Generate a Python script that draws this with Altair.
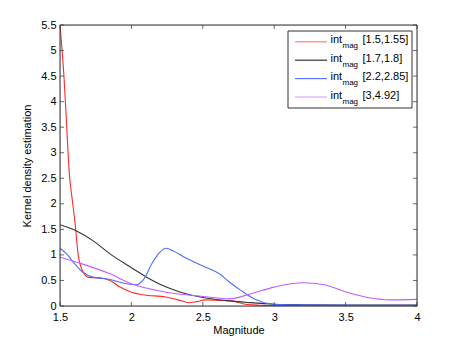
import altair as alt
import pandas as pd

FONT = "Liberation Sans"

red_x = [1.5, 1.528, 1.547, 1.565, 1.585, 1.605, 1.628, 1.663, 1.70, 1.78, 1.85, 1.92, 2.0, 2.08, 2.24, 2.34, 2.40, 2.45, 2.52, 2.62, 2.70, 2.81, 2.9, 3.0, 3.5, 4.0]
red_y = [5.5, 4.48, 3.51, 2.6, 2.1, 1.64, 0.99, 0.66, 0.56, 0.55, 0.50, 0.37, 0.27, 0.22, 0.175, 0.11, 0.065, 0.08, 0.12, 0.11, 0.10, 0.03, 0.015, 0.008, 0.005, 0.005]

black_x = [1.5, 1.616, 1.73, 1.85, 2.0, 2.128, 2.244, 2.407, 2.52, 2.686, 2.81, 3.0, 3.2, 3.5, 4.0]
black_y = [1.59, 1.47, 1.28, 1.02, 0.75, 0.53, 0.37, 0.22, 0.156, 0.10, 0.07, 0.035, 0.025, 0.02, 0.02]

blue_x = [1.5, 1.546, 1.605, 1.66, 1.73, 1.85, 1.965, 2.035, 2.08, 2.15, 2.198, 2.244, 2.29, 2.384, 2.52, 2.616, 2.686, 2.767, 2.837, 2.93, 3.05, 3.3, 3.7, 4.0]
blue_y = [1.13, 1.02, 0.82, 0.66, 0.565, 0.52, 0.435, 0.415, 0.50, 0.86, 1.05, 1.13, 1.08, 0.935, 0.76, 0.63, 0.47, 0.305, 0.175, 0.065, 0.026, 0.018, 0.015, 0.015]

mag_x = [1.5, 1.66, 1.85, 2.0, 2.244, 2.477, 2.686, 2.837, 3.0, 3.2, 3.35, 3.51, 3.675, 3.81, 4.0]
mag_y = [0.955, 0.82, 0.63, 0.435, 0.27, 0.195, 0.14, 0.24, 0.37, 0.455, 0.415, 0.27, 0.156, 0.12, 0.13]

series_names = ["[1.5,1.55]", "[1.7,1.8]", "[2.2,2.85]", "[3,4.92]"]
colors = ["#ff2a2a", "#333333", "#4f6bff", "#c25cff"]
legend_colors = ["#ff8080", "#333333", "#5a78ff", "#d9a6ff"]

x_ticks = [1.5, 2, 2.5, 3, 3.5, 4]
y_ticks = [0, 0.5, 1, 1.5, 2, 2.5, 3, 3.5, 4, 4.5, 5, 5.5]

rows = []
for name, xs, ys in zip(series_names, [red_x, black_x, blue_x, mag_x], [red_y, black_y, blue_y, mag_y]):
    for i, (a, b) in enumerate(zip(xs, ys)):
        rows.append({"series": name, "x": a, "y": b, "order": i})
df = pd.DataFrame(rows)

W, H = 357, 281
xs = alt.Scale(domain=[1.5, 4], nice=False, zero=False)
ys = alt.Scale(domain=[0, 5.5], nice=False, zero=False)

axis_common = dict(grid=False, tickSize=0, domain=False, format=".1~f",
                   labelOverlap=False, labelFlush=False, labelBound=False,
                   labelFont=FONT, labelFontSize=11, labelColor="#000",
                   titleFont=FONT, titleFontSize=11, titleFontWeight="normal",
                   titleColor="#000")
x_axis = alt.Axis(values=x_ticks, title="Magnitude", labelPadding=5, titlePadding=2, **axis_common)
y_axis = alt.Axis(values=y_ticks, title="Kernel density estimation", labelPadding=4, titlePadding=8,
                  **axis_common)

lines = alt.Chart(df).mark_line(strokeWidth=1.1, interpolate="monotone", clip=True).encode(
    x=alt.X("x:Q", scale=xs, axis=x_axis, title="Magnitude"),
    y=alt.Y("y:Q", scale=ys, axis=y_axis, title="Kernel density estimation"),
    color=alt.Color("series:N", scale=alt.Scale(domain=series_names, range=colors), legend=None),
    order="order:Q",
)

xt = pd.DataFrame({"t": x_ticks})
yt = pd.DataFrame({"t": y_ticks})
tick_col = "#444444"
ticks_bottom = alt.Chart(xt).mark_rule(color=tick_col, strokeWidth=0.8).encode(
    x=alt.X("t:Q", scale=xs, axis=x_axis, title="Magnitude"), y=alt.value(H), y2=alt.value(H - 4))
ticks_top = alt.Chart(xt).mark_rule(color=tick_col, strokeWidth=0.8).encode(
    x=alt.X("t:Q", scale=xs, axis=x_axis, title="Magnitude"), y=alt.value(0), y2=alt.value(4))
ticks_left = alt.Chart(yt).mark_rule(color=tick_col, strokeWidth=0.8).encode(
    y=alt.Y("t:Q", scale=ys, axis=y_axis, title="Kernel density estimation"), x=alt.value(0), x2=alt.value(4))
ticks_right = alt.Chart(yt).mark_rule(color=tick_col, strokeWidth=0.8).encode(
    y=alt.Y("t:Q", scale=ys, axis=y_axis, title="Kernel density estimation"), x=alt.value(W), x2=alt.value(W - 4))

one = pd.DataFrame({"a": [0]})
legend_layers = [
    alt.Chart(one).mark_rect(fill="white", stroke="#333333", strokeWidth=1).encode(
        x=alt.value(228), x2=alt.value(352), y=alt.value(6), y2=alt.value(83))
]
for i, (name, c) in enumerate(zip(series_names, legend_colors)):
    yy = 16.8 + i * 18.4
    legend_layers.append(alt.Chart(one).mark_rule(color=c, strokeWidth=1.2).encode(
        x=alt.value(235), x2=alt.value(267), y=alt.value(yy)))
    legend_layers.append(alt.Chart(one).mark_text(text="int", font=FONT, fontSize=11, align="left",
                                                  baseline="middle", color="#000").encode(
        x=alt.value(270.5), y=alt.value(yy - 1.5)))
    legend_layers.append(alt.Chart(one).mark_text(text="mag", font=FONT, fontSize=8, align="left",
                                                  baseline="middle", color="#000").encode(
        x=alt.value(282.5), y=alt.value(yy + 4.5)))
    legend_layers.append(alt.Chart(one).mark_text(text=name, font=FONT, fontSize=11, align="left",
                                                  baseline="middle", color="#000").encode(
        x=alt.value(302.5), y=alt.value(yy - 1.5)))

frame = alt.Chart(one).mark_rect(fill=None, stroke="#333333", strokeWidth=1).encode(
    x=alt.value(0), x2=alt.value(W), y=alt.value(0), y2=alt.value(H))

chart = alt.layer(lines, ticks_bottom, ticks_top, ticks_left, ticks_right, frame, *legend_layers).properties(
    width=W, height=H,
    autosize=alt.AutoSizeParams(type="none"),
    padding={"left": 52, "top": 17, "right": 20, "bottom": 40},
).configure_view(stroke=None).configure(background="white")

chart.save("out.html", embed_options={"renderer": "svg", "actions": False})
